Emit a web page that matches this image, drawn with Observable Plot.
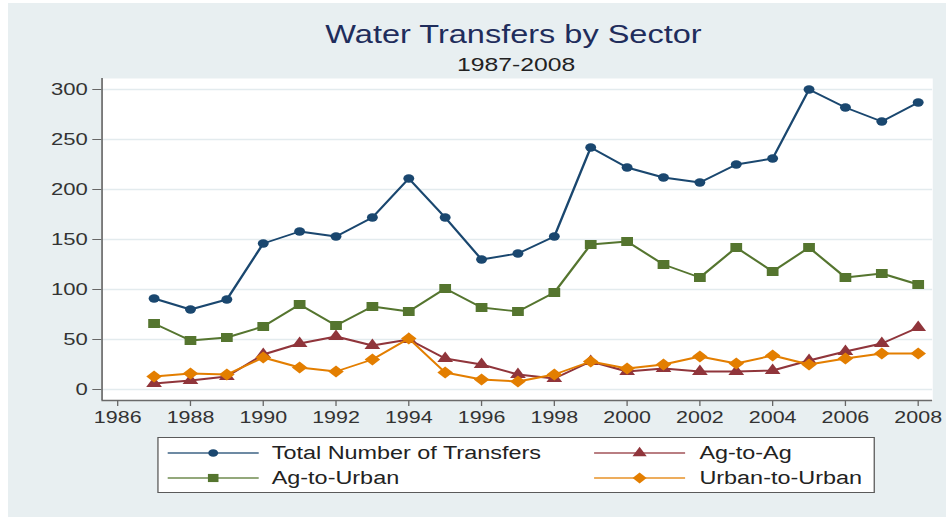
<!DOCTYPE html>
<html>
<head>
<meta charset="utf-8">
<script src="https://cdn.jsdelivr.net/npm/d3@7"></script>
<script src="https://cdn.jsdelivr.net/npm/@observablehq/plot@0.6"></script>
<style>
  html, body { margin: 0; padding: 0; background: #ffffff; }
  body { width: 946px; height: 517px; position: relative; overflow: hidden; font-family: "Liberation Sans", Arial, sans-serif; }
  #bg { position: absolute; left: 8px; top: 3px; width: 938px; height: 514px; background: #e8eff1; }
  #stage { position: absolute; left: 0; top: 0; width: 728px; height: 517px; transform: scaleX(1.3); transform-origin: 0 0; }
  .abs { position: absolute; white-space: nowrap; }
  #title { left: 195px; width: 400px; top: 22px; font-size: 25px; line-height: 25px; text-align: center; color: #1f2d5c; }
  #subtitle { left: 297px; width: 200px; top: 55px; font-size: 19px; line-height: 19px; text-align: center; color: #222; }
  #chart { left: 0; top: 70px; }
  #legend { left: 121px; top: 437px; width: 552px; height: 56px; background: #fff; border: 1px solid #5a5a5a; box-sizing: border-box; }
  .ltext { font-size: 18px; line-height: 18px; color: #222; }
</style>
</head>
<body>
<div id="bg"></div>
<div id="stage">
  <div id="title" class="abs">Water Transfers by Sector</div>
  <div id="subtitle" class="abs">1987-2008</div>
  <div id="chart" class="abs"></div>
  <div id="legend" class="abs"></div>
</div>
<script>
// ---- data ----
const years = [1987,1988,1989,1990,1991,1992,1993,1994,1995,1996,1997,1998,1999,2000,2001,2002,2003,2004,2005,2006,2007,2008];
const totalTransfers = [91,80,90,146,158,153,172,211,172,130,136,153,242,222,212,207,225,231,300,282,268,287];
const agToAg        = [6,9,13,35,46,53,44,50,31,25,15,11,28,18,21,18,18,19,29,38,46,62];
const agToUrban     = [66,49,52,63,85,64,83,78,101,82,78,97,145,148,125,112,142,118,142,112,116,105];
const urbanToUrban  = [13,16,15,32,22,18,30,51,17,10,8,15,28,21,25,33,26,34,25,31,36,36];
const seriesNames   = ["Total Number of Transfers","Ag-to-Ag","Ag-to-Urban","Urban-to-Urban"];
const xTicks = [1986,1988,1990,1992,1994,1996,1998,2000,2002,2004,2006,2008];
const yTicks = [0,50,100,150,200,250,300];

// ---- styling ----
const seriesValues = [totalTransfers, agToAg, agToUrban, urbanToUrban];
const colors  = ["#1a476f","#90353b","#55752f","#e37e00"];
const symbols = ["circle","triangle","square","diamond2"];
const radii   = [4.2, 4.5, 5.1, 5.4];
const xDomain = [1985.57, 2008.4];
const yDomain = [-11, 311];

const rows = [];
seriesNames.forEach((name, i) => {
  years.forEach((yr, j) => rows.push({series: name, year: yr, value: seriesValues[i][j]}));
});

const marks = [
  Plot.frame({fill: "white", stroke: "none"}),
  Plot.gridY(yTicks, {stroke: "#e3ebee", strokeOpacity: 1, strokeWidth: 1.5}),
  Plot.ruleX([xDomain[0]], {stroke: "#6a6a6a", strokeWidth: 1.3}),
  Plot.ruleY([yDomain[0]], {stroke: "#6a6a6a", strokeWidth: 1.3}),
  Plot.axisY({ticks: yTicks, tickSize: 7, tickPadding: 4, fontSize: 17, label: null, stroke: "#666", fill: "#333"}),
  Plot.axisX({ticks: xTicks, tickFormat: d => String(d), tickSize: 6, tickPadding: 5, fontSize: 16.5, label: null, stroke: "#666", fill: "#333"})
];
seriesNames.forEach((name, i) => {
  const d = rows.filter(r => r.series === name);
  marks.push(Plot.line(d, {x: "year", y: "value", stroke: colors[i], strokeWidth: 1.9}));
  marks.push(Plot.dot(d, {x: "year", y: "value", symbol: symbols[i], fill: colors[i], stroke: "none", r: radii[i]}));
});

const chart = Plot.plot({
  width: 728,
  height: 360,
  marginLeft: 78,
  marginRight: 11,
  marginTop: 8,
  marginBottom: 30,
  x: {type: "linear", domain: xDomain},
  y: {type: "linear", domain: yDomain},
  style: {fontFamily: "'Liberation Sans', Arial, sans-serif", background: "transparent", overflow: "visible", color: "#333"},
  marks
});
document.getElementById("chart").appendChild(chart);

// ---- legend ----
const stage = document.getElementById("stage");
const legendPos = [
  {lx: 129, tx: 209, cy: 452.7},
  {lx: 457, tx: 538, cy: 452.7},
  {lx: 129, tx: 209, cy: 477.7},
  {lx: 457, tx: 538, cy: 477.7}
];
const symMap = {circle: d3.symbolCircle, triangle: d3.symbolTriangle, square: d3.symbolSquare, diamond2: d3.symbolDiamond2};
seriesNames.forEach((name, i) => {
  const p = legendPos[i];
  const w = 70, h = 16;
  const svg = d3.create("svg").attr("width", w).attr("height", h)
    .style("position", "absolute").style("left", p.lx + "px").style("top", (p.cy - h / 2) + "px").style("overflow", "visible");
  svg.append("line").attr("x1", 0).attr("x2", w).attr("y1", h / 2).attr("y2", h / 2)
    .attr("stroke", colors[i]).attr("stroke-width", 1.7).attr("stroke-opacity", 0.85);
  const r = radii[i] * 0.9;
  svg.append("path").attr("d", d3.symbol(symMap[symbols[i]], r * r * Math.PI)())
    .attr("transform", `translate(${w / 2},${h / 2})`).attr("fill", colors[i]);
  stage.appendChild(svg.node());
  const t = document.createElement("div");
  t.className = "abs ltext";
  t.textContent = name;
  t.style.left = p.tx + "px";
  t.style.top = (p.cy - 8.8) + "px";
  stage.appendChild(t);
});
</script>
</body>
</html>
